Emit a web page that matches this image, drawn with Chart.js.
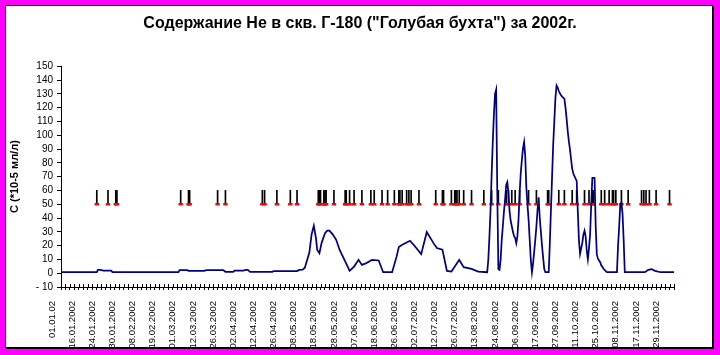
<!DOCTYPE html>
<html><head><meta charset="utf-8">
<script src="https://cdn.jsdelivr.net/npm/chart.js@4.4.1/dist/chart.umd.min.js"></script>
<style>
html,body{margin:0;padding:0;background:#ff00ff;width:720px;height:355px;overflow:hidden}
#frame{position:absolute;left:5px;top:5px;width:706px;height:341px;background:#fff;border:1px solid #000;box-shadow:1px 1px 0 #000}
#wrap{position:absolute;left:0;top:0;width:720px;height:355px}
</style></head><body>
<div id="frame"></div>
<div id="wrap"><canvas id="c" width="720" height="355"></canvas></div>
<script>
// Category tick labels (one every labelStep samples)
const tickLabels = ["01.01.02","16.01.2002","24.01.2002","30.01.2002","08.02.2002","19.02.2002","01.03.2002","12.03.2002","26.03.2002","02.04.2002","12.04.2002","26.04.2002","08.05.2002","18.05.2002","28.05.2002","07.06.2002","18.06.2002","26.06.2002","02.07.2002","12.07.2002","26.07.2002","13.08.2002","24.08.2002","06.09.2002","17.09.2002","27.09.2002","11.10.2002","25.10.2002","08.11.2002","17.11.2002","29.11.2002"];
const labelStep = 18;
const tickStep = 4;
const sampleCount = 549;

// He content: sample index and value (*10-5 ml/l)
const heIdx = [0,32,33,35,38,45,46,105,106,113,114,128,130,145,147,154,155,163,165,167,169,189,190,211,213,216,218,222,224,226,228,229,231,233,236,238,240,243,246,249,252,255,258,262,266,269,273,278,284,288,296,300,302,305,312,316,322,327,333,336,341,345,349,356,360,367,373,381,382,383,384,385,386,387,388,389,390,391,392,393,394,395,396,397,398,399,400,401,402,403,404,405,406,407,408,409,410,411,412,413,414,415,416,417,418,419,420,421,422,424,425,426,427,428,430,432,433,436,437,438,439,440,441,442,443,444,445,446,447,448,449,450,451,452,453,454,455,456,457,458,459,460,461,462,463,464,466,467,468,469,470,471,472,473,474,475,477,478,479,480,482,483,485,486,488,497,498,499,500,501,502,503,504,522,525,528,531,536,548];
const heVal = [0.7,0.7,2.4,2.4,1.8,1.8,0.7,0.7,2.2,2.2,1.7,1.7,2.2,2.2,1.0,1.0,1.8,1.8,2.4,2.4,1.0,1.0,1.5,1.5,2.4,2.6,4,15,28,34.4,25,17,14.5,22,29,30.8,30.8,28,24.2,17,12,7,1.7,4.8,9.7,6,7.3,9.7,9.2,0.7,0.7,12,18.9,20.6,23.5,19.9,13.8,29.8,21.8,18.2,17,1.7,1.2,9.7,4.4,3.1,1.2,0.7,9.7,26.6,46,72,95,115,130,133,60,3,2.4,9.7,24.2,34,45,53.3,64,66,58,45,38,34,30,27,25.5,21.8,26.6,38.8,58,72.7,82,90.4,95,85,62,50,38.8,24.2,9.7,0.7,7,24.2,34,46,55,40,20,3,0.7,0.7,21.8,46,70,93,110,127,136,134.5,132,130.4,129,128,127.3,126.5,120,112,103,95.7,89.7,82.4,75.6,72.2,70.3,68.6,67,45,24,14,21.8,28,30.8,26.6,16.4,10.2,18,28,50,69,69,34,13.8,10.5,8,5.7,3.2,2.4,0.7,0.7,20,34,50,51,43,24,0.7,0.7,2.4,3,1.7,0.7,0.7];

// Event samples (marked at level 50 with a +10 bar)
const eventIdx = [32,42,49,50,107,114,115,140,147,180,182,193,205,211,230,231,232,235,236,237,244,254,255,258,262,269,277,280,287,292,298,302,303,305,309,311,313,320,335,341,342,349,352,353,354,356,360,367,378,385,391,398,400,403,406,410,418,425,435,436,445,450,457,461,468,472,475,476,483,486,490,493,494,496,501,507,519,521,523,526,532,544];
const eventLevel = 50;
const eventBar = 10;

const yTicks = {min:-10, max:150, step:10};

const NARROW = "'Liberation Sans Narrow','Liberation Sans',Arial,sans-serif";
const SANS = "'Liberation Sans',Arial,sans-serif";

const crossTicks = {
  id:'crossTicks',
  afterDraw(chart){
    const s = chart.scales.x, ctx = chart.ctx;
    ctx.save(); ctx.strokeStyle = '#000'; ctx.lineWidth = 1; ctx.beginPath();
    s.ticks.forEach(t => {
      if (t.lbl) return;
      const px = Math.round(s.getPixelForValue(t.value)) + 0.5;
      ctx.moveTo(px, s.top); ctx.lineTo(px, s.top - 3);
    });
    ctx.stroke(); ctx.restore();
  }
};

new Chart(document.getElementById('c'), {
  type: 'line',
  data: {
    datasets: [
      {
        type: 'line', label: 'He',
        data: heIdx.map((x, k) => ({x, y: heVal[k]})),
        borderColor: '#000080', borderWidth: 1.75, pointRadius: 0, tension: 0, fill: false, order: 0
      },
      {
        type: 'scatter', label: 'event marker',
        data: eventIdx.map(x => ({x, y: eventLevel})),
        pointStyle: 'line', radius: 2.2, borderColor: '#ff0000', backgroundColor: '#ff0000', borderWidth: 2.5, order: 1
      },
      {
        type: 'bar', label: 'event bar',
        data: eventIdx.map(x => ({x, y: [eventLevel, eventLevel + eventBar]})),
        backgroundColor: '#000', barThickness: 1, order: 2
      }
    ]
  },
  options: {
    responsive: false, animation: false,
    layout: {padding: {left: 4, right: 4, top: 0, bottom: 0}},
    plugins: {
      legend: {display: false}, tooltip: {enabled: false},
      title: {
        display: true,
        text: 'Содержание Не в скв. Г-180 ("Голубая бухта") за 2002г.',
        color: '#000', font: {family: SANS, size: 16, weight: 'bold'},
        padding: {top: 14, bottom: 33}
      }
    },
    scales: {
      x: {
        type: 'linear', min: 0, max: sampleCount - 1, offset: false,
        grid: {display: true, drawOnChartArea: false, drawTicks: true, tickLength: 3, offset: false, color: '#000',
               tickColor: ctx => (ctx.tick && ctx.tick.lbl) ? 'rgba(0,0,0,0)' : '#000'},
        border: {display: true, color: '#000', width: 1},
        afterBuildTicks: s => {
          const t = [];
          for (let v = 0; v <= sampleCount - 1; v += tickStep) t.push({value: v, lbl: false});
          tickLabels.forEach((l, k) => t.push({value: k * labelStep, lbl: true}));
          s.ticks = t;
        },
        afterFit: s => { s.height = 68; },
        ticks: {
          autoSkip: false, maxRotation: 90, minRotation: 90, labelOffset: -9, padding: 11,
          color: '#000', font: {family: NARROW, size: 9.5},
          callback: (v, i, ticks) => ticks[i].lbl ? tickLabels[Math.round(v / labelStep)] : ''
        }
      },
      y: {
        min: yTicks.min, max: yTicks.max,
        grid: {display: true, drawOnChartArea: false, tickLength: 4, color: '#000'},
        border: {display: true, color: '#000', width: 1},
        afterFit: s => { s.width = 57; },
        ticks: {
          stepSize: yTicks.step, autoSkip: false, padding: 4, color: '#000', font: {family: NARROW, size: 10},
          callback: v => v < 0 ? '- ' + Math.abs(v) : String(v)
        },
        title: {display: true, text: 'С (*10-5 мл/л)', color: '#000',
                font: {family: SANS, size: 11, weight: 'bold'}, padding: {top: 4, bottom: 0}}
      },
      yRight: {
        position: 'right', display: true, min: 0, max: 1,
        grid: {display: false, drawTicks: false}, border: {display: false},
        ticks: {display: false},
        afterFit: s => { s.width = 42; }
      }
    }
  },
  plugins: [crossTicks]
});
</script>
</body></html>
